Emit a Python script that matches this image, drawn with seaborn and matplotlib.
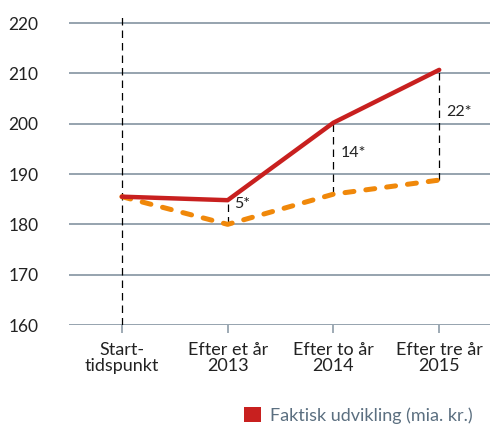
import pandas as pd
import numpy as np
import matplotlib.pyplot as plt
import seaborn as sns
from matplotlib.patches import Patch

# data
kategorier = ["Start-\ntidspunkt", "Efter et år\n2013", "Efter to år\n2014", "Efter tre år\n2015"]
faktisk = [185.5, 184.8, 200.2, 210.7]
forventet = [185.5, 180.0, 186.0, 188.8]
forskel = ["", "5*", "14*", "22*"]
y_ticks = [160, 170, 180, 190, 200, 210, 220]

sns.set_theme(style="white")
plt.rcParams["font.family"] = ["Lato", "DejaVu Sans"]

df = pd.DataFrame({"x": range(len(kategorier)), "faktisk": faktisk, "forventet": forventet})

fig = plt.figure(figsize=(4.9, 4.29), dpi=100)
ax = fig.add_axes([69 / 490, 1 - 325 / 429, 1 - 69 / 490, (325 - 14) / 429])

grid_col = "#8d9ca8"
for yv in y_ticks:
    ax.axhline(yv, color=grid_col, lw=1.3, zorder=0)

# lodrette stiplede linjer
ax.axvline(0, color="black", lw=0.9, ls=(0, (6, 4)), zorder=1)
for i in range(1, len(kategorier)):
    ax.plot([i, i], [forventet[i], faktisk[i]], color="black", lw=0.9, ls=(0, (6, 4)), zorder=1)

sns.lineplot(data=df, x="x", y="forventet", ax=ax, color="#f0880a", lw=3.6,
             dashes=False, zorder=2)
ax.lines[-1].set_dashes((1.8, 2.4))
ax.lines[-1].set_dash_capstyle("round")
ax.lines[-1].set_solid_capstyle("round")

sns.lineplot(data=df, x="x", y="faktisk", ax=ax, color="#c8201f", lw=3.2, zorder=3)
ax.lines[-1].set_solid_capstyle("round")

# forskel-etiketter
offsets = {1: -3, 2: 4, 3: 9}
for i, txt in enumerate(forskel):
    if txt:
        yref = faktisk[i] if i == 1 else (faktisk[i] + forventet[i]) / 2
        ax.annotate(txt, xy=(i, yref), xytext=(5, offsets[i]),
                    textcoords="offset points", fontsize=11.5, va="center", ha="left",
                    color="#222222")

ax.set_xlim(-0.5, 3.48)
ax.set_ylim(160, 221.8)
ax.set_xticks(range(len(kategorier)))
ax.set_xticklabels(kategorier, fontsize=13, color="#222222", linespacing=1.05)
ax.set_yticks(y_ticks)
ax.set_yticklabels([str(v) for v in y_ticks], fontsize=12.5, color="#222222")
ax.tick_params(axis="y", length=0, pad=22)
ax.tick_params(axis="x", length=6, width=1.2, color=grid_col, pad=6, bottom=True)
ax.set_xlabel("")
ax.set_ylabel("")
for s in ax.spines.values():
    s.set_visible(False)

handles = [Patch(facecolor="#c8201f", edgecolor="none")]
leg = fig.legend(handles=handles, labels=["Faktisk udvikling (mia. kr.)"], loc="lower left",
                 bbox_to_anchor=(228 / 490, -11 / 429), frameon=False, fontsize=13,
                 handlelength=0.9, handleheight=0.9, handletextpad=0.5)
for t in leg.get_texts():
    t.set_color("#5b6f80")

fig.savefig("out.png", dpi=100)
